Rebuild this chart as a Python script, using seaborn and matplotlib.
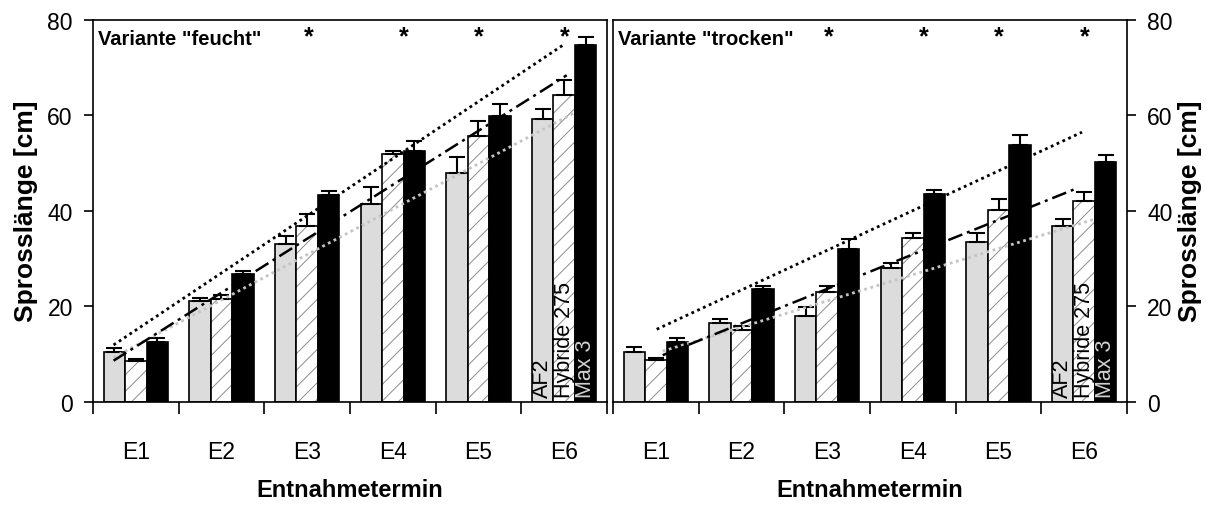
import numpy as np
import pandas as pd
import matplotlib
matplotlib.use("Agg")
import matplotlib.pyplot as plt
from matplotlib.patches import Rectangle
from matplotlib.ticker import FixedLocator, NullFormatter, FixedFormatter
import seaborn as sns

# ---------------- data ----------------
termine = ["E1", "E2", "E3", "E4", "E5", "E6"]
sorten = ["AF2", "Hybride 275", "Max 3"]

feucht_af2 = [10.5, 21.1, 33.0, 41.5, 48.0, 59.3]
feucht_hyb = [8.6, 21.6, 36.7, 51.9, 55.7, 64.2]
feucht_max = [12.6, 26.7, 43.2, 52.5, 59.9, 74.6]
feucht_af2_err = [0.7, 0.6, 1.7, 3.5, 3.2, 1.9]
feucht_hyb_err = [0.3, 0.7, 2.6, 0.5, 3.1, 3.2]
feucht_max_err = [0.7, 0.7, 0.9, 2.0, 2.4, 1.7]

trocken_af2 = [10.5, 16.5, 18.0, 27.9, 33.5, 36.7]
trocken_hyb = [8.8, 15.1, 23.0, 34.2, 40.2, 42.1]
trocken_max = [12.4, 23.5, 31.9, 43.5, 53.8, 50.1]
trocken_af2_err = [0.9, 0.8, 1.9, 1.1, 1.8, 1.5]
trocken_hyb_err = [0.3, 0.8, 1.2, 1.1, 2.2, 1.9]
trocken_max_err = [0.9, 0.7, 2.2, 0.9, 2.0, 1.5]

stern_termine = ["E3", "E4", "E5", "E6"]
panel_titles = ['Variante "feucht"', 'Variante "trocken"']

# ---------------- style ----------------
sns.set_theme(style="white")
plt.rcParams["font.family"] = ["Liberation Sans", "DejaVu Sans"]
plt.rcParams["hatch.linewidth"] = 0.7
plt.rcParams["axes.linewidth"] = 1.2
for key in ["text.color", "axes.labelcolor", "xtick.color", "ytick.color",
            "axes.edgecolor"]:
    plt.rcParams[key] = "black"

tick_fs, xlab_fs, title_fs = 16.5, 17, 14.5

colors = {"AF2": "#dcdcdc", "Hybride 275": "white", "Max 3": "black"}
trend_styles = {
    "AF2": dict(color="#c4c4c4", linestyle=(0, (1, 1.3)), linewidth=2.0),
    "Hybride 275": dict(color="black", linestyle=(0, (6, 2, 1.2, 2)), linewidth=1.8),
    "Max 3": dict(color="black", linestyle=(0, (1, 1.3)), linewidth=2.0),
}
# x-range (in category units) over which each regression line is drawn
trend_range = [
    {"AF2": (-0.26, 5.13), "Hybride 275": (-0.26, 5.03), "Max 3": (-0.26, 4.99)},
    {"AF2": (0.08, 5.13), "Hybride 275": (0.08, 4.92), "Max 3": (0.01, 4.975)},
]
stern_offset = {"E3": 0.02, "E4": 0.13, "E5": 0.0, "E6": 0.01}

panels = [
    ([feucht_af2, feucht_hyb, feucht_max], [feucht_af2_err, feucht_hyb_err, feucht_max_err]),
    ([trocken_af2, trocken_hyb, trocken_max], [trocken_af2_err, trocken_hyb_err, trocken_max_err]),
]

W, H = 1215, 506
fig = plt.figure(figsize=(W / 100, H / 100), dpi=100)
ax_bottom = 1 - 402.7 / H
ax_h = 382 / H
axes = [
    fig.add_axes([93 / W, ax_bottom, 514 / W, ax_h]),
    fig.add_axes([613 / W, ax_bottom, 514 / W, ax_h]),
]

for pi, (ax, (means, errs)) in enumerate(zip(axes, panels)):
    rows = []
    for s, vals in zip(sorten, means):
        for t, v in zip(termine, vals):
            rows.append({"Termin": t, "Sorte": s, "Wert": v})
    df = pd.DataFrame(rows)
    sns.barplot(data=df, x="Termin", y="Wert", hue="Sorte", order=termine,
                hue_order=sorten, palette=colors, width=0.75, errorbar=None,
                saturation=1, edgecolor="black", linewidth=1.2, legend=False,
                ax=ax, zorder=2)

    for si, (s, cont) in enumerate(zip(sorten, ax.containers)):
        xs = []
        for p in cont.patches:
            xs.append(p.get_x() + p.get_width() / 2)
            if s == "Hybride 275":
                p.set_hatch("//")
                p.set_edgecolor("#8c8c8c")
                p.set_linewidth(0)
                ax.add_patch(Rectangle(p.get_xy(), p.get_width(), p.get_height(),
                                       fill=False, edgecolor="black",
                                       linewidth=1.2, zorder=2.5))
        ax.errorbar(xs, means[si], yerr=[np.zeros(len(xs)), errs[si]], fmt="none",
                    ecolor="black", elinewidth=1.5, capsize=5.5, capthick=1.5,
                    zorder=3)
        # label inside the E6 bar
        tcol = "#d2d2d2" if s == "Max 3" else "black"
        ax.text(xs[-1], 1.0, s, rotation=90, ha="center", va="bottom",
                fontsize=15.5, color=tcol, zorder=5)

    # linear trend lines
    xi = np.arange(len(termine))
    for si, s in enumerate(sorten):
        k, d = np.polyfit(xi, means[si], 1)
        x0, x1 = trend_range[pi][s]
        xx = np.array([x0, x1])
        ax.plot(xx, k * xx + d, zorder=4, **trend_styles[s])

    # significance stars
    for t in stern_termine:
        ax.text(termine.index(t) + stern_offset[t], 76.6, "*", ha="center",
                va="center", fontsize=18, fontweight="bold", color="black")

    ax.text(0.010, 0.952, panel_titles[pi], transform=ax.transAxes,
            ha="left", va="center", fontsize=title_fs, fontweight="bold")

    ax.set_ylim(0, 80)
    ax.set_xlim(-0.5, 5.5)
    ax.set_yticks([0, 20, 40, 60, 80])
    ax.xaxis.set_major_locator(FixedLocator(np.arange(-0.5, 6, 1.0)))
    ax.xaxis.set_major_formatter(NullFormatter())
    ax.xaxis.set_minor_locator(FixedLocator(xi))
    ax.xaxis.set_minor_formatter(FixedFormatter(termine))
    ax.tick_params(axis="x", which="major", direction="out", length=8.5,
                   width=1.2, color="black", bottom=True)
    ax.tick_params(axis="x", which="minor", length=0, pad=27.5,
                   labelcolor="black", labelsize=tick_fs, bottom=True)
    ax.tick_params(axis="y", which="major", direction="out", length=6.5,
                   width=1.2, color="black", pad=8, labelcolor="black",
                   labelsize=tick_fs)
    for sp in ax.spines.values():
        sp.set_visible(True)
        sp.set_color("black")
        sp.set_linewidth(1.2)
    ax.set_xlabel("Entnahmetermin", fontsize=xlab_fs, fontweight="bold",
                  labelpad=11)
    ax.set_ylabel("Sprosslänge [cm]", fontsize=19, fontweight="bold")
    ax.grid(False)

axes[0].yaxis.set_ticks_position("left")
axes[0].yaxis.labelpad = 7
axes[1].yaxis.tick_right()
axes[1].yaxis.set_label_position("right")
axes[1].yaxis.labelpad = 4

fig.savefig("out.png", dpi=100, facecolor="white")
